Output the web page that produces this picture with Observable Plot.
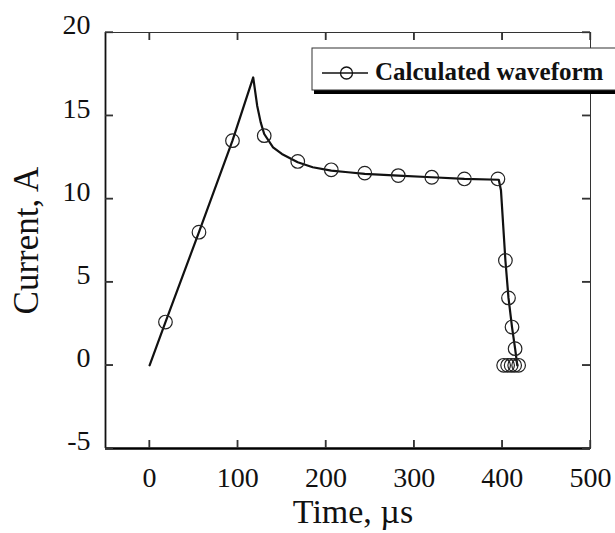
<!DOCTYPE html>
<html>
<head>
<meta charset="utf-8">
<script src="https://cdn.jsdelivr.net/npm/d3@7"></script>
<script src="https://cdn.jsdelivr.net/npm/@observablehq/plot@0.6"></script>
<style>
  html, body { margin: 0; padding: 0; background: #fff; overflow: hidden; }
  #chart svg { display: block; }
</style>
</head>
<body>
<div id="chart"></div>
<script>
// Waveform line (time in µs, current in A)
const lineTime    = [0, 18, 56, 94, 117.5, 122, 126, 130, 140, 150, 168, 185, 206, 225, 244, 282, 320, 357, 396, 398.5, 403.5, 407, 411, 414.5, 417];
const lineCurrent = [0, 2.6, 8.0, 13.5, 17.3, 15.6, 14.6, 13.9, 13.1, 12.7, 12.2, 11.9, 11.7, 11.6, 11.5, 11.4, 11.3, 11.2, 11.15, 10.5, 6.3, 4.05, 2.3, 1.0, 0];

// Circle markers
const markerTime    = [18, 56, 94, 130, 168, 206, 244, 282, 320, 357, 395, 403.5, 407, 411, 414.5, 401.5, 406, 410, 414, 418.5];
const markerCurrent = [2.6, 8.0, 13.5, 13.8, 12.25, 11.75, 11.55, 11.4, 11.3, 11.2, 11.2, 6.3, 4.05, 2.3, 1.0, 0, 0, 0, 0, 0];

const xTicks = [0, 100, 200, 300, 400, 500];
const yTicks = [-5, 0, 5, 10, 15, 20];
const seriesName = "Calculated waveform";
const xTitle = "Time, µs";
const yTitle = "Current, A";

const lineData = lineTime.map((t, i) => ({t, c: lineCurrent[i]}));
const markerData = markerTime.map((t, i) => ({t, c: markerCurrent[i]}));

const serif = "'Liberation Serif', 'Times New Roman', serif";
const W = 615, H = 533, ML = 105, MR = 25, MT = 32, MB = 85;
const PW = W - ML - MR, PH = H - MT - MB, TL = 8;
const fmt = d => String(d);
const tickColor = "#333";

const plot = Plot.plot({
  width: W,
  height: H,
  marginLeft: ML,
  marginRight: MR,
  marginTop: MT,
  marginBottom: MB,
  style: {fontFamily: serif, background: "#fff", color: "#000", overflow: "visible"},
  x: {domain: [-50, 500], axis: null},
  y: {domain: [-5, 20], axis: null},
  marks: [
    Plot.frame({stroke: "#333", strokeWidth: 1}),
    // tick labels
    Plot.axisX(xTicks, {anchor: "bottom", tickSize: 0, tickPadding: 19, fontSize: 28, label: null, fill: "#111", tickFormat: fmt}),
    Plot.axisY(yTicks, {anchor: "left", tickSize: 0, tickPadding: 15, dy: -7, fontSize: 28, label: null, fill: "#111", tickFormat: fmt}),
    // heavier left and bottom axis lines
    Plot.ruleX([-50], {stroke: "#111", strokeWidth: 1.8}),
    Plot.ruleY([-5], {stroke: "#000", strokeWidth: 2.6}),
    // data
    Plot.line(lineData, {x: "t", y: "c", stroke: "#111", strokeWidth: 2.2}),
    Plot.dot(markerData, {x: "t", y: "c", r: 6.8, stroke: "#222", strokeWidth: 1.2, fill: "none"}),
    // axis titles
    Plot.text([xTitle], {frameAnchor: "bottom", dy: 64, dx: 5, fontSize: 34, lineAnchor: "middle", textAnchor: "middle", fill: "#111"}),
    Plot.text([yTitle], {frameAnchor: "left", dx: -79, rotate: -90, fontSize: 35, lineAnchor: "middle", textAnchor: "middle", fill: "#111"}),
    // inward ticks on all four sides
    Plot.tickX(xTicks, {x: d => d, insetTop: PH - TL, stroke: tickColor, strokeWidth: 1.3}),
    Plot.tickX(xTicks, {x: d => d, insetBottom: PH - TL, stroke: tickColor, strokeWidth: 1.3}),
    Plot.tickY(yTicks, {y: d => d, insetRight: PW - TL, stroke: tickColor, strokeWidth: 1.3}),
    Plot.tickY(yTicks, {y: d => d, insetLeft: PW - TL, stroke: tickColor, strokeWidth: 1.3})
  ]
});

document.getElementById("chart").appendChild(plot);

const svg = d3.select(plot);

// Reinforce inward ticks using the plot's own scales
const sx = plot.scale("x"), sy = plot.scale("y");
const tg = svg.append("g").attr("stroke", tickColor).attr("stroke-width", 1.3);
xTicks.forEach(v => {
  const px = sx.apply(v);
  tg.append("line").attr("x1", px).attr("x2", px).attr("y1", H - MB - TL).attr("y2", H - MB);
  tg.append("line").attr("x1", px).attr("x2", px).attr("y1", MT).attr("y2", MT + TL);
});
yTicks.forEach(v => {
  const py = sy.apply(v);
  tg.append("line").attr("x1", ML).attr("x2", ML + TL).attr("y1", py).attr("y2", py);
  tg.append("line").attr("x1", W - MR - TL).attr("x2", W - MR).attr("y1", py).attr("y2", py);
});

// Legend box inside the plot, upper right
const lg = svg.append("g").attr("class", "legend");
lg.append("rect").attr("x", 314).attr("y", 52).attr("width", 400).attr("height", 42).attr("fill", "#000");
lg.append("rect").attr("x", 312).attr("y", 48).attr("width", 400).attr("height", 42)
  .attr("fill", "#fff").attr("stroke", "#333").attr("stroke-width", 1);
lg.append("line").attr("x1", 322).attr("x2", 368).attr("y1", 73).attr("y2", 73)
  .attr("stroke", "#111").attr("stroke-width", 1.6);
lg.append("circle").attr("cx", 346.5).attr("cy", 73).attr("r", 6)
  .attr("fill", "none").attr("stroke", "#111").attr("stroke-width", 1.3);
lg.append("text").attr("x", 375).attr("y", 80).attr("text-anchor", "start")
  .attr("font-family", serif).attr("font-size", 25).attr("font-weight", "bold")
  .attr("fill", "#111").text(seriesName);
</script>
</body>
</html>
